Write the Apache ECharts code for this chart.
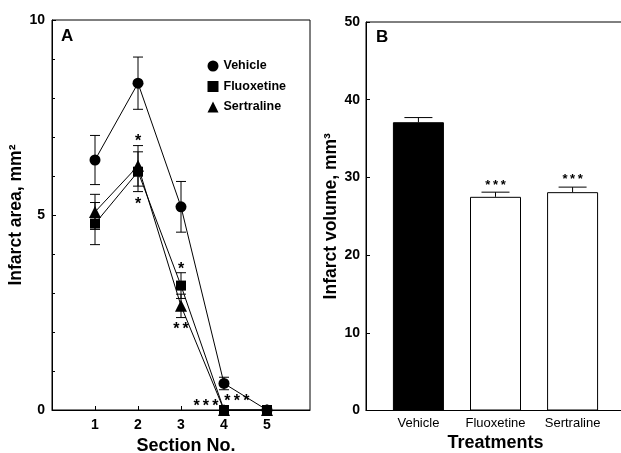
<!DOCTYPE html>
<html>
<head>
<meta charset="utf-8">
<script src="https://cdn.jsdelivr.net/npm/echarts@6/dist/echarts.min.js"></script>
<style>html,body{margin:0;padding:0;background:#fff}#c{width:621px;height:453px}</style>
</head>
<body>
<div id="c"></div>
<script>
// ---- Panel A data ----
const sections = [1, 2, 3, 4, 5];
const vehicleMean = [6.41, 8.38, 5.21, 0.68, 0];
const vehicleErr  = [0.63, 0.67, 0.65, 0.16, 0];
const fluoxMean   = [4.78, 6.11, 3.19, 0, 0];
const fluoxErr    = [0.54, 0.51, 0.33, 0, 0];
const sertMean    = [5.08, 6.26, 2.67, 0, 0];
const sertErr     = [0.45, 0.52, 0.30, 0, 0];
const starsA = [[2, 7.0, '*'], [2, 5.4, '*'], [3, 3.72, '*'], [3, 2.18, '*\u2009*'], [3.58, 0.2, '*\u2009*\u2009*'], [4.3, 0.33, '*\u2009*\u2009*']];
const ticksA_x = [1, 2, 3, 4, 5];
// ---- Panel B data ----
const treatments = ['Vehicle', 'Fluoxetine', 'Sertraline'];
const volumeMean = [37.1, 27.5, 28.1];
const volumeErr  = [0.6, 0.6, 0.65];
const starsB = [[2, 29.45, '*\u2009*\u2009*'], [3, 30.2, '*\u2009*\u2009*']];

const FONT = 'Liberation Sans, Arial, sans-serif';
const chart = echarts.init(document.getElementById('c'));

function errItem(capW) {
  return function (params, api) {
    const x = api.value(0), m = api.value(1), e = api.value(2);
    if (e <= 0) return null;
    const top = api.coord([x, m + e]);
    const bot = api.coord([x, m - e]);
    const st = {stroke: '#000', lineWidth: 1};
    return {type: 'group', children: [
      {type: 'line', shape: {x1: top[0], y1: top[1], x2: bot[0], y2: bot[1]}, style: st},
      {type: 'line', shape: {x1: top[0] - capW / 2, y1: top[1], x2: top[0] + capW / 2, y2: top[1]}, style: st},
      {type: 'line', shape: {x1: bot[0] - capW / 2, y1: bot[1], x2: bot[0] + capW / 2, y2: bot[1]}, style: st}
    ]};
  };
}
function errUpItem(capW) {
  return function (params, api) {
    const x = api.value(0), m = api.value(1), e = api.value(2);
    const top = api.coord([x, m + e]);
    const mid = api.coord([x, m]);
    const st = {stroke: '#000', lineWidth: 1};
    return {type: 'group', children: [
      {type: 'line', shape: {x1: top[0], y1: top[1], x2: mid[0], y2: mid[1]}, style: st},
      {type: 'line', shape: {x1: top[0] - capW / 2, y1: top[1], x2: top[0] + capW / 2, y2: top[1]}, style: st}
    ]};
  };
}
function makeStar(labels, size) {
  return function (params, api) {
    const p = api.coord([api.value(0), api.value(1)]);
    return {type: 'text', x: p[0], y: p[1] + size * 0.3,
      style: {text: labels[params.dataIndex], align: 'center', verticalAlign: 'middle',
              fontFamily: FONT, fontWeight: 'bold', fontSize: size, fill: '#000'}};
  };
}
const zip = (xs, a, b) => xs.map((x, i) => b ? [x, a[i], b[i]] : [x, a[i]]);

const lineStyle = {color: '#000', width: 1};
const axisFontBold = {fontFamily: FONT, fontWeight: 'bold', color: '#000', fontSize: 14};
const nameFont = {fontFamily: FONT, fontWeight: 'bold', fontSize: 18, color: '#000'};

const option = {
  animation: false,
  backgroundColor: '#fff',
  grid: [
    {left: 52, top: 20, width: 258, bottom: 43, show: true, borderColor: '#000', borderWidth: 1, outerBoundsMode: 'none', containLabel: false},
    {left: 366, top: 22, right: -4, bottom: 42.5, show: true, borderColor: '#000', borderWidth: 1, outerBoundsMode: 'none', containLabel: false}
  ],
  legend: {
    orient: 'vertical', left: 207.5, top: 59.5, padding: 0, itemGap: 7.5, itemWidth: 11, itemHeight: 11,
    textStyle: {fontFamily: FONT, fontWeight: 'bold', fontSize: 12.5, color: '#000', padding: [0, 0, 0, 0]},
    data: [{name: 'Vehicle', icon: 'circle'}, {name: 'Fluoxetine', icon: 'rect'}, {name: 'Sertraline', icon: 'triangle'}]
  },
  title: [
    {text: 'A', left: 61, top: 28, padding: 0, textStyle: {fontFamily: FONT, fontWeight: 'bold', fontSize: 17, color: '#000'}},
    {text: 'B', left: 376, top: 29, padding: 0, textStyle: {fontFamily: FONT, fontWeight: 'bold', fontSize: 17, color: '#000'}}
  ],
  xAxis: [
    {gridIndex: 0, type: 'value', min: 0, max: 6,
     name: 'Section No.', nameLocation: 'middle', nameGap: 22,
     nameTextStyle: {...nameFont, padding: [0, 0, 0, 10]},
     axisLine: {lineStyle: {color: '#000'}}, splitLine: {show: false},
     axisTick: {inside: true, length: 4, customValues: ticksA_x, lineStyle: {color: '#000'}},
     axisLabel: {customValues: ticksA_x, margin: 8, ...axisFontBold}},
    {gridIndex: 1, type: 'value', min: 0.32, max: 3.68,
     name: 'Treatments', nameLocation: 'middle', nameGap: 22,
     nameTextStyle: nameFont,
     axisLine: {lineStyle: {color: '#000'}}, splitLine: {show: false},
     axisTick: {show: false},
     axisLabel: {customValues: [1, 2, 3], margin: 6, fontFamily: FONT, fontSize: 13, color: '#000',
                 formatter: v => treatments[Math.round(v) - 1]}}
  ],
  yAxis: [
    {gridIndex: 0, type: 'value', min: 0, max: 10, interval: 5,
     name: 'Infarct area, mm²', nameLocation: 'middle', nameGap: 19,
     nameTextStyle: {...nameFont, fontSize: 17.5},
     axisLine: {show: true, lineStyle: {color: '#000'}}, splitLine: {show: false},
     axisTick: {inside: true, length: 4, lineStyle: {color: '#000'}},
     minorTick: {show: true, splitNumber: 5, length: 3, lineStyle: {color: '#000'}},
     axisLabel: {margin: 7, ...axisFontBold}},
    {gridIndex: 1, type: 'value', min: 0, max: 50, interval: 10,
     name: 'Infarct volume, mm³', nameLocation: 'middle', nameGap: 26,
     nameTextStyle: {...nameFont, fontSize: 17.5},
     axisLine: {show: true, lineStyle: {color: '#000'}}, splitLine: {show: false},
     axisTick: {inside: true, length: 4, lineStyle: {color: '#000'}},
     axisLabel: {margin: 6, ...axisFontBold}}
  ],
  series: [
    {name: 'Vehicle', type: 'line', xAxisIndex: 0, yAxisIndex: 0, data: zip(sections, vehicleMean),
     symbol: 'circle', symbolSize: 11, itemStyle: {color: '#000'}, lineStyle: lineStyle, z: 3},
    {name: 'Sertraline', type: 'line', xAxisIndex: 0, yAxisIndex: 0, data: zip(sections, sertMean),
     symbol: 'triangle', symbolSize: 12, itemStyle: {color: '#000'}, lineStyle: lineStyle, z: 4},
    {name: 'Fluoxetine', type: 'line', xAxisIndex: 0, yAxisIndex: 0, data: zip(sections, fluoxMean),
     symbol: 'rect', symbolSize: 10, itemStyle: {color: '#000'}, lineStyle: lineStyle, z: 5},
    {type: 'custom', xAxisIndex: 0, yAxisIndex: 0, renderItem: errItem(10), data: zip(sections, vehicleMean, vehicleErr), z: 2},
    {type: 'custom', xAxisIndex: 0, yAxisIndex: 0, renderItem: errItem(10), data: zip(sections, fluoxMean, fluoxErr), z: 2},
    {type: 'custom', xAxisIndex: 0, yAxisIndex: 0, renderItem: errItem(10), data: zip(sections, sertMean, sertErr), z: 2},
    {type: 'custom', xAxisIndex: 0, yAxisIndex: 0, silent: true, z: 6,
     renderItem: makeStar(starsA.map(s => s[2]), 16), data: starsA.map(s => [s[0], s[1]])},
    {type: 'bar', xAxisIndex: 1, yAxisIndex: 1, barWidth: 51,
     data: volumeMean.map((v, i) => ({value: [i + 1, v], itemStyle: {color: i === 0 ? '#000' : '#fff', borderColor: '#000', borderWidth: 1}}))},
    {type: 'custom', xAxisIndex: 1, yAxisIndex: 1, renderItem: errUpItem(28),
     data: volumeMean.map((v, i) => [i + 1, v, volumeErr[i]]), z: 3},
    {type: 'custom', xAxisIndex: 1, yAxisIndex: 1, silent: true, z: 6,
     renderItem: makeStar(starsB.map(s => s[2]), 13), data: starsB.map(s => [s[0], s[1]])}
  ]
};
chart.setOption(option);
</script>
</body>
</html>
